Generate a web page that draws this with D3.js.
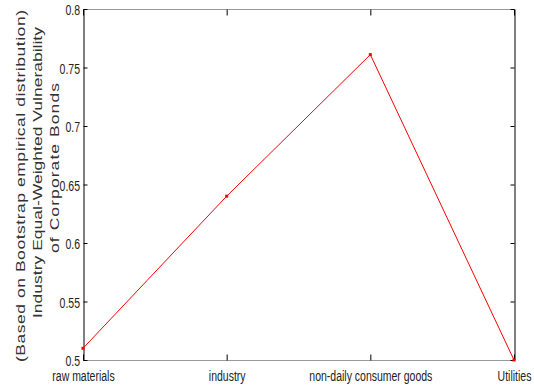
<!DOCTYPE html>
<html>
<head>
<meta charset="utf-8">
<script src="https://cdn.jsdelivr.net/npm/d3@7"></script>
<style>
  html, body { margin: 0; padding: 0; background: #fff; }
  svg { display: block; }
  .tick-label { font-family: "Liberation Sans", Arial, sans-serif; font-size: 14px; fill: #222; }
  .title-line { font-family: "Liberation Sans", Arial, sans-serif; font-size: 17.5px; fill: #333; }
</style>
</head>
<body>
<svg id="chart" width="534" height="392"></svg>
<script>
// Sectors along the horizontal axis
const sectors = ["raw materials", "industry", "non-daily consumer goods", "Utilities"];
// Equal-weighted vulnerability per sector
const vulnerability = [0.510, 0.640, 0.761, 0.500];
// Vertical axis ticks
const yTicks = [0.5, 0.55, 0.6, 0.65, 0.7, 0.75, 0.8];
const yTickLabels = ["0.5", "0.55", "0.6", "0.65", "0.7", "0.75", "0.8"];
// Vertical axis title, one entry per line
const titleLines = [
  "(Based on Bootstrap empirical distribution)",
  "Industry  Equal-Weighted Vulnerability",
  "of Corporate Bonds"
];

const plot = { left: 83, right: 514, top: 9, bottom: 360 };
const squeeze = 0.75; // horizontal condensing of all text

const svg = d3.select("#chart");

const x = d3.scalePoint().domain(sectors).range([plot.left, plot.right]).padding(0);
const y = d3.scaleLinear().domain([0.5, 0.8]).range([plot.bottom, plot.top]);

// Frame: horizontal edges grey, vertical edges black
svg.append("line").attr("x1", plot.left).attr("x2", plot.right).attr("y1", plot.top + 0.5).attr("y2", plot.top + 0.5)
  .attr("stroke", "#9a9a9a").attr("stroke-width", 1);
svg.append("line").attr("x1", plot.left).attr("x2", plot.right).attr("y1", plot.bottom + 0.5).attr("y2", plot.bottom + 0.5)
  .attr("stroke", "#9a9a9a").attr("stroke-width", 1);

// Left axis with inward ticks
const leftAxis = d3.axisLeft(y).tickValues(yTicks).tickSizeInner(-4).tickSizeOuter(0)
  .tickFormat((d, i) => yTickLabels[i]);
const gL = svg.append("g").attr("transform", `translate(${plot.left + 0.5},0)`).call(leftAxis);
gL.attr("font-family", null).attr("font-size", null);
gL.select(".domain").attr("stroke", "#000");
gL.selectAll(".tick line").attr("stroke", "#000");
gL.selectAll(".tick text").attr("class", "tick-label")
  .attr("text-anchor", "end")
  .attr("transform", `scale(${squeeze},1)`)
  .attr("x", -3.5 / squeeze).attr("dy", "0.42em");

// Right axis with inward ticks, no labels
const rightAxis = d3.axisRight(y).tickValues(yTicks).tickSizeInner(-4).tickSizeOuter(0).tickFormat("");
const gR = svg.append("g").attr("transform", `translate(${plot.right + 0.5},0)`).call(rightAxis);
gR.select(".domain").attr("stroke", "#000");
gR.selectAll(".tick line").attr("stroke", "#000");

// Bottom axis: inward ticks and sector labels
const bottomAxis = d3.axisBottom(x).tickSizeInner(-6).tickSizeOuter(0);
const gB = svg.append("g").attr("transform", `translate(0,${plot.bottom + 0.5})`).call(bottomAxis);
gB.attr("font-family", null).attr("font-size", null);
gB.select(".domain").remove();
gB.selectAll(".tick line").attr("stroke", "#000");
gB.selectAll(".tick text").attr("class", "tick-label")
  .attr("transform", `scale(${squeeze},1)`)
  .attr("y", 11).attr("dy", "0.71em");

// Top axis: inward ticks only
const topAxis = d3.axisTop(x).tickSizeInner(-6).tickSizeOuter(0).tickFormat("");
const gT = svg.append("g").attr("transform", `translate(0,${plot.top + 0.5})`).call(topAxis);
gT.select(".domain").remove();
gT.selectAll(".tick line").attr("stroke", "#000");

// Series line
const line = d3.line().x((d, i) => x(sectors[i])).y(d => y(d));
svg.append("path").datum(vulnerability).attr("d", line)
  .attr("fill", "none").attr("stroke", "#ff0000").attr("stroke-width", 1);

// Markers
svg.selectAll("rect.pt").data(vulnerability).enter().append("rect").attr("class", "pt")
  .attr("x", (d, i) => x(sectors[i]) - 1.5).attr("y", d => y(d) - 1.5)
  .attr("width", 3).attr("height", 3).attr("fill", "#ff0000");

// Rotated, condensed axis title (baseline x, start y, end y, length mode per line)
const titleBase = [25, 42, 59];
const titleSpan = [[10, 362], [27, 318], [83, 253]];
const titleAdjust = ["spacing", "spacingAndGlyphs", "spacing"];
titleLines.forEach((t, i) => {
  const [a, b] = titleSpan[i];
  svg.append("text").attr("class", "title-line")
    .attr("transform", `translate(${titleBase[i]},${b}) scale(${squeeze},1) rotate(-90)`)
    .attr("text-anchor", "start")
    .attr("textLength", b - a).attr("lengthAdjust", titleAdjust[i])
    .text(t);
});
</script>
</body>
</html>
